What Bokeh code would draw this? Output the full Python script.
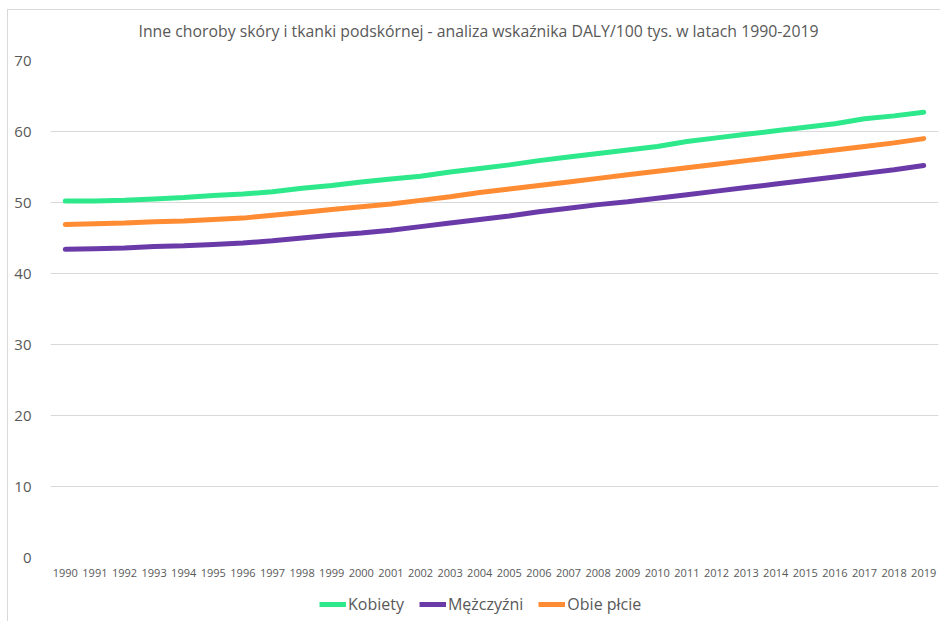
from bokeh.plotting import figure
from bokeh.layouts import column
from bokeh.models import FixedTicker, Legend, LegendItem, Range1d, FactorRange, Label
from bokeh.embed import file_html
from bokeh.resources import INLINE

years = [str(y) for y in range(1990, 2020)]
kobiety = [50.2, 50.2, 50.3, 50.5, 50.7, 51.0, 51.2, 51.5, 52.0, 52.4,
           52.9, 53.3, 53.7, 54.3, 54.8, 55.3, 55.9, 56.4, 56.9, 57.4,
           57.9, 58.6, 59.1, 59.6, 60.1, 60.6, 61.1, 61.8, 62.2, 62.7]
mezczyzni = [43.4, 43.5, 43.6, 43.8, 43.9, 44.1, 44.3, 44.6, 45.0, 45.4,
             45.7, 46.1, 46.6, 47.1, 47.6, 48.1, 48.7, 49.2, 49.7, 50.1,
             50.6, 51.1, 51.6, 52.1, 52.6, 53.1, 53.6, 54.1, 54.6, 55.2]
obie = [46.9, 47.0, 47.1, 47.3, 47.4, 47.6, 47.8, 48.2, 48.6, 49.0,
        49.4, 49.8, 50.3, 50.8, 51.4, 51.9, 52.4, 52.9, 53.4, 53.9,
        54.4, 54.9, 55.4, 55.9, 56.4, 56.9, 57.4, 57.9, 58.4, 59.0]
series_names = ["Kobiety", "Mężczyźni", "Obie płcie"]
y_ticks = [0, 10, 20, 30, 40, 50, 60, 70]
title_text = "Inne choroby skóry i tkanki podskórnej - analiza wskaźnika DALY/100 tys. w latach 1990-2019"

colors = ["#2ee88c", "#6a3ba8", "#ff8b33"]
FONT = "Open Sans"
TXT = "#595959"
series = [kobiety, mezczyzni, obie]
W = 932

# title strip
p0 = figure(width=W, height=40, output_backend="svg", toolbar_location=None,
            x_range=Range1d(0, 1), y_range=Range1d(0, 1),
            min_border_left=0, min_border_right=0, min_border_top=0, min_border_bottom=0)
p0.outline_line_color = None
p0.axis.visible = False
p0.grid.grid_line_color = None
p0.add_layout(Label(x=428, y=20, x_units="screen", y_units="screen", text=title_text,
                    text_align="center", text_baseline="middle", text_font=FONT,
                    text_font_size="15.8px", text_color=TXT))

# main chart
p = figure(width=W, height=532, output_backend="svg", toolbar_location=None,
           x_range=FactorRange(*years), y_range=Range1d(0, 70),
           min_border_left=42, min_border_right=2, min_border_top=10, min_border_bottom=25)
p.outline_line_color = None

for vals, c in zip(series, colors):
    p.line(years, vals, line_color=c, line_width=5, line_cap="round", line_join="round")

p.xgrid.grid_line_color = None
p.ygrid.grid_line_color = "#d9d9d9"
p.ygrid.grid_line_width = 1
p.yaxis.ticker = FixedTicker(ticks=y_ticks)

for ax in (p.xaxis[0], p.yaxis[0]):
    ax.axis_line_color = None
    ax.major_tick_line_color = None
    ax.minor_tick_line_color = None
    ax.major_tick_in = 0
    ax.major_tick_out = 0
    ax.major_label_text_font = FONT
    ax.major_label_text_color = TXT

p.yaxis.major_label_text_font_size = "15px"
p.yaxis.major_label_standoff = 19
p.xaxis.major_label_text_font_size = "11px"
p.xaxis.major_label_standoff = 11

# legend strip (same series, drawn outside its visible range so only the legend shows)
p2 = figure(width=W, height=39, output_backend="svg", toolbar_location=None,
            x_range=FactorRange(*years), y_range=Range1d(0, 1),
            min_border_left=0, min_border_right=0, min_border_top=0, min_border_bottom=0)
p2.outline_line_color = None
p2.axis.visible = False
p2.grid.grid_line_color = None
rs = []
for vals, c in zip(series, colors):
    rs.append(p2.line(years, vals, line_color=c, line_width=5))

legend = Legend(items=[LegendItem(label=n, renderers=[r]) for n, r in zip(series_names, rs)],
                orientation="horizontal", location=(269, 6),
                label_text_font=FONT, label_text_font_size="16px", label_text_color=TXT,
                glyph_width=27, glyph_height=14, label_standoff=2, spacing=15,
                border_line_color=None, background_fill_alpha=0, padding=4, margin=0)
p2.add_layout(legend)

layout = column(p0, p, p2, spacing=0,
                styles={"margin-left": "7px", "margin-top": "9px",
                        "border-left": "1px solid #d9d9d9", "border-top": "1px solid #d9d9d9"})

open("out.html", "w").write(file_html(layout, INLINE))
